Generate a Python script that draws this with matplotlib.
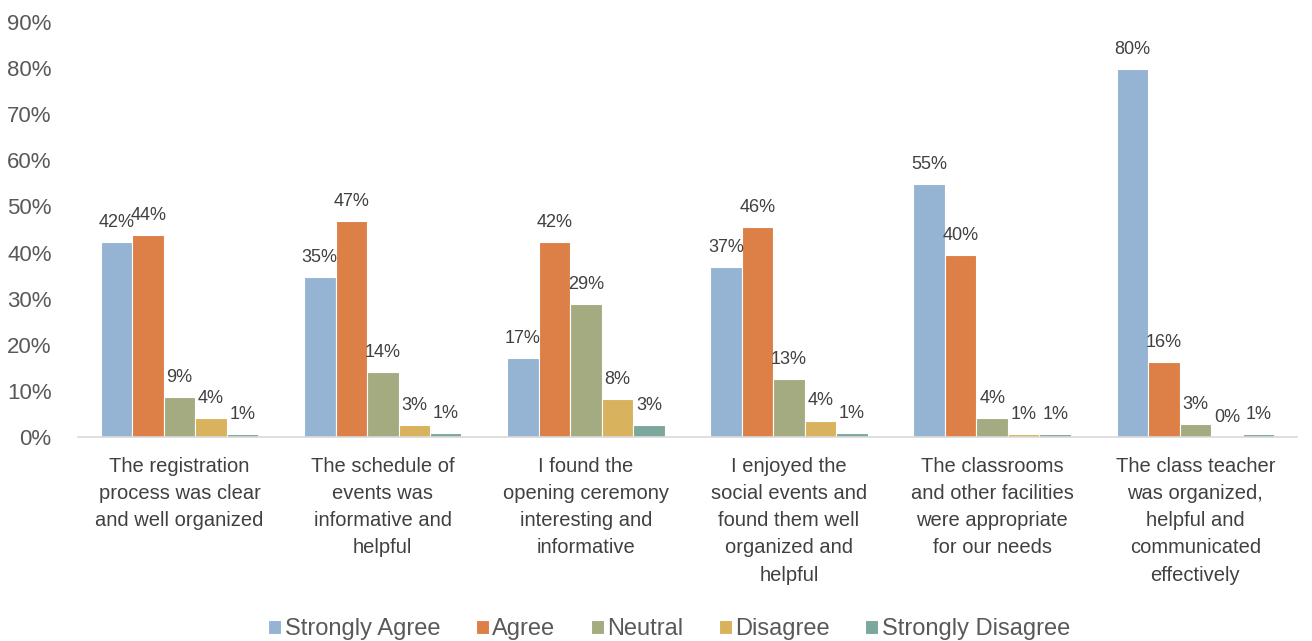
import numpy as np
import matplotlib.pyplot as plt

# ---------------- Data ----------------
categories = [
    "The registration\nprocess was clear\nand well organized",
    "The schedule of\nevents was\ninformative and\nhelpful",
    "I found the\nopening ceremony\ninteresting and\ninformative",
    "I enjoyed the\nsocial events and\nfound them well\norganized and\nhelpful",
    "The classrooms\nand other facilities\nwere appropriate\nfor our needs",
    "The class teacher\nwas organized,\nhelpful and\ncommunicated\neffectively",
]
series_names = ["Strongly Agree", "Agree", "Neutral", "Disagree", "Strongly Disagree"]

strongly_agree    = [42.2, 34.7, 17.2, 36.8, 54.8, 79.7]
agree             = [43.8, 46.9, 42.2, 45.6, 39.5, 16.2]
neutral           = [8.7, 14.1, 28.9, 12.6, 4.1, 2.9]
disagree          = [4.1, 2.6, 8.3, 3.6, 0.6, 0.0]
strongly_disagree = [0.6, 0.9, 2.6, 0.9, 0.6, 0.6]

colors = ["#95B4D3", "#DD8047", "#A5AB81", "#D8B25C", "#7BA79D"]

plt.rcParams["font.family"] = ["Liberation Sans", "DejaVu Sans"]

fig = plt.figure(figsize=(13.12, 6.41), dpi=100)
ax = fig.add_axes([0.0595, 0.318, 0.929, 0.648])

x = np.arange(len(categories))
width = 0.155
all_series = [strongly_agree, agree, neutral, disagree, strongly_disagree]

for i, (vals, name, col) in enumerate(zip(all_series, series_names, colors)):
    pos = x + (i - 2) * width
    bars = ax.bar(pos, vals, width, color=col, edgecolor="white", linewidth=0.8, label=name)
    for b, v in zip(bars, vals):
        ax.annotate(f"{v:.0f}%", (b.get_x() + b.get_width() / 2, v),
                    xytext=(0, 8), textcoords="offset points",
                    ha="center", va="bottom", fontsize=13, color="#404040")

ax.set_ylim(0, 90)
ax.set_yticks(np.arange(0, 91, 10))
ax.set_yticklabels([f"{t}%" for t in range(0, 91, 10)], fontsize=16, color="#595959")
ax.set_xlim(-0.5, len(categories) - 0.5)
ax.set_xticks(x)
ax.set_xticklabels(categories, fontsize=14.5, color="#404040", linespacing=1.55, va="top")

for s in ["top", "right", "left"]:
    ax.spines[s].set_visible(False)
ax.spines["bottom"].set_color("#D9D9D9")
ax.spines["bottom"].set_linewidth(1.2)
ax.tick_params(axis="both", length=0)
ax.tick_params(axis="x", pad=14)
ax.tick_params(axis="y", pad=19)

fig.legend(loc="lower center", bbox_to_anchor=(0.51, -0.032), ncol=5, frameon=False,
           fontsize=17, handlelength=0.55, handleheight=0.55, handletextpad=0.15,
           columnspacing=1.5, labelcolor="#595959")

fig.savefig("out.png", dpi=100)
